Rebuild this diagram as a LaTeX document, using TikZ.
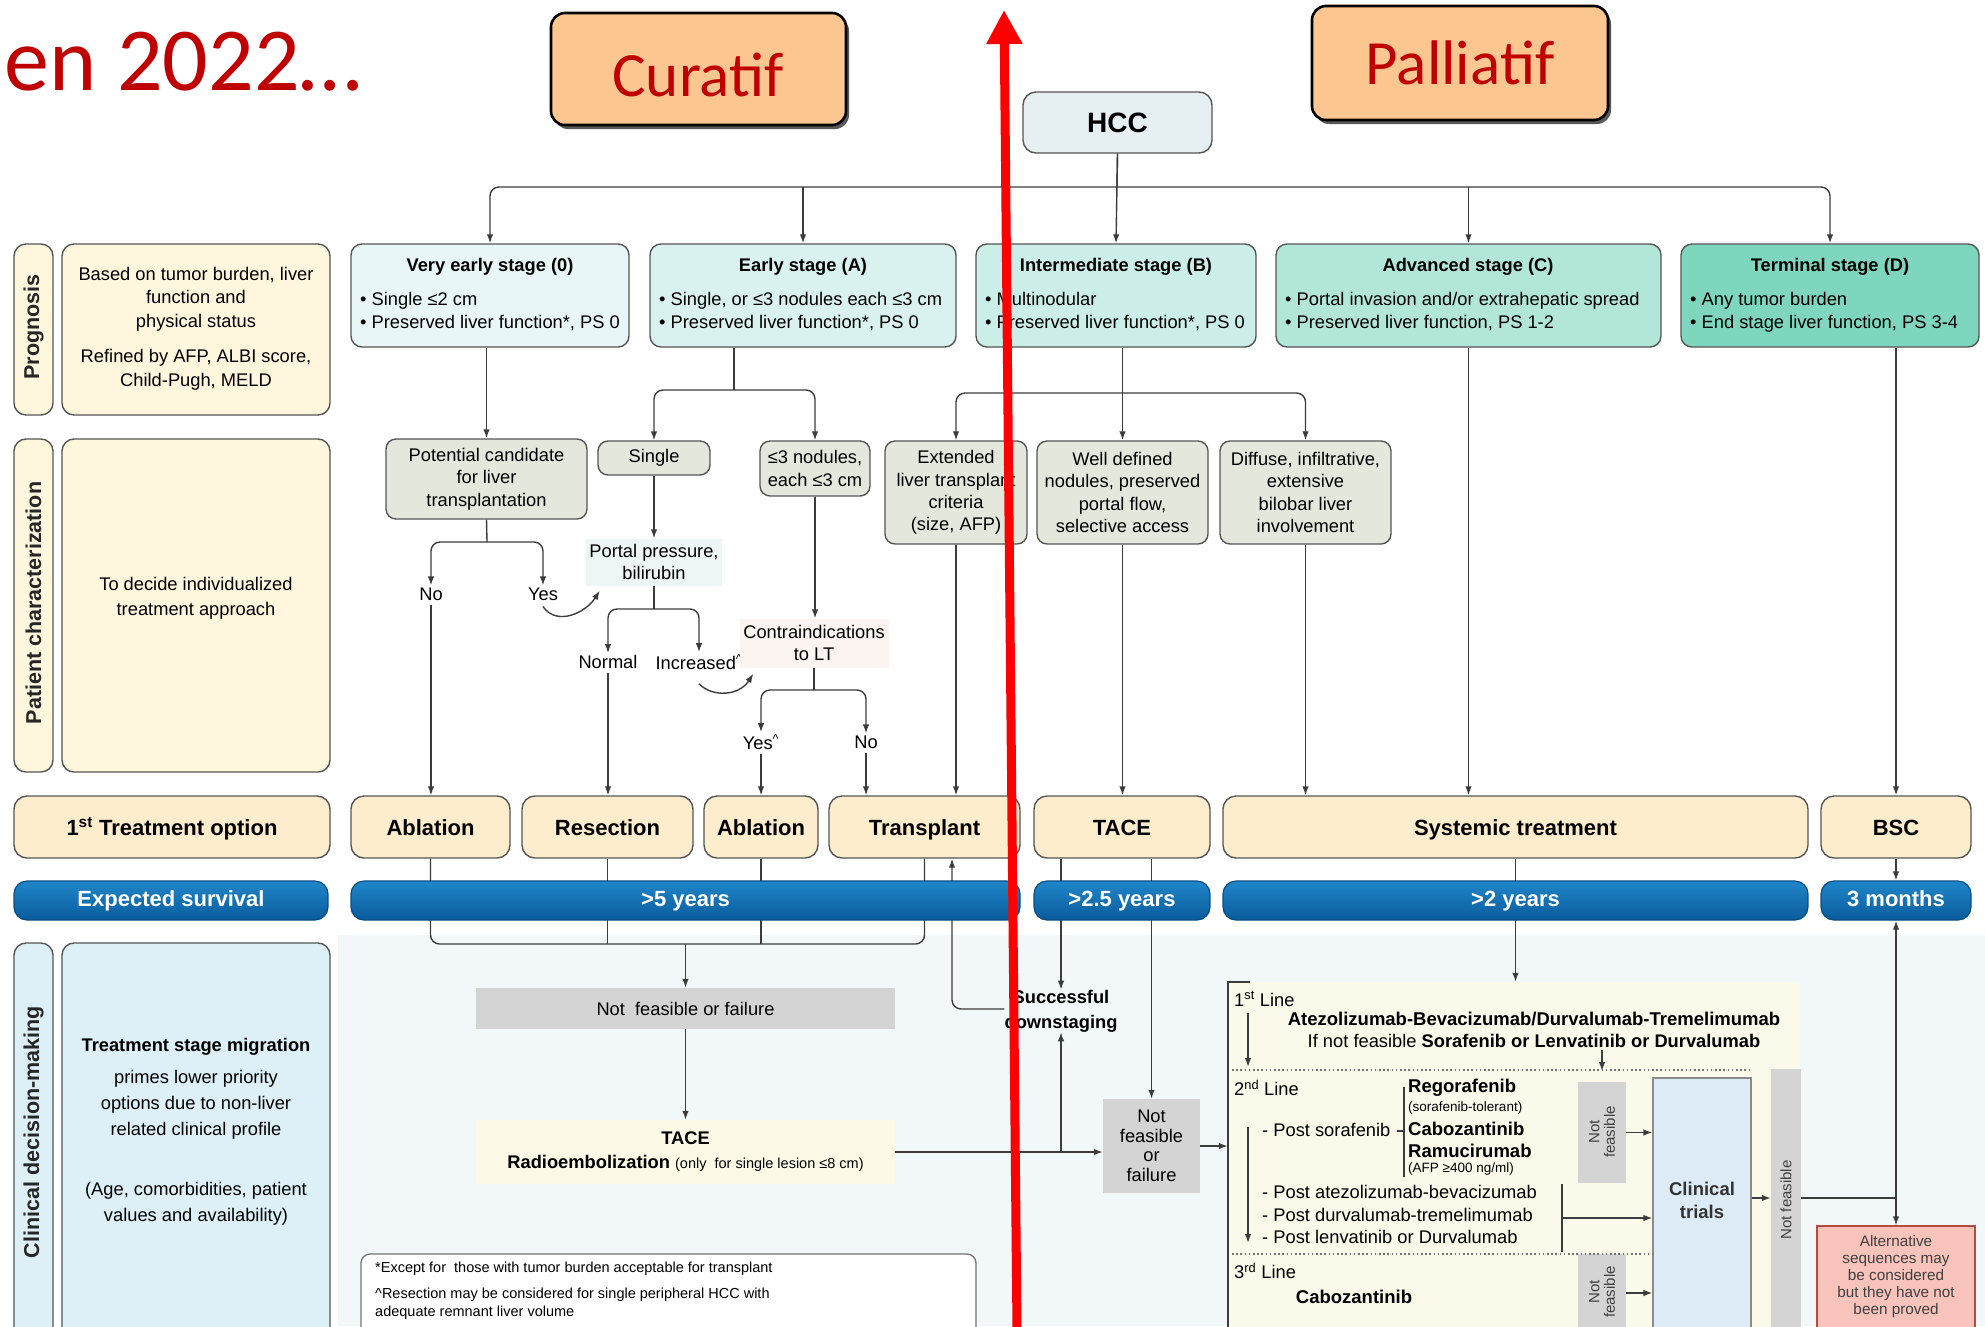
\documentclass[tikz,border=0pt]{standalone}
\usepackage{fontspec}
\setmainfont{Liberation Sans}
\newfontfamily\carlito{Carlito}
\usetikzlibrary{arrows.meta}
\newcommand\myfs[2]{\fontsize{#1pt}{#2pt}\selectfont}
\newcommand\mybox[7]{\node[#2, minimum width={#5pt-#3pt}, minimum height={#6pt-#4pt}] (#1) at ({(#3+#5)/2},{(#4+#6)/2}) {#7};}
\definecolor{linec}{HTML}{3C3C3C}
\definecolor{bordc}{HTML}{555555}
\definecolor{stz}{HTML}{E8F6F8}
\definecolor{sta}{HTML}{DAF2EF}
\definecolor{stb}{HTML}{CBEEE8}
\definecolor{stc}{HTML}{B2E6D9}
\definecolor{std}{HTML}{7FD6BE}
\definecolor{crm}{HTML}{FFF6DE}
\definecolor{trc}{HTML}{FDEDCD}
\definecolor{lvl}{HTML}{E4E8DC}
\definecolor{survt}{HTML}{1F86C9}
\definecolor{survbot}{HTML}{0A5C9C}
\definecolor{survb}{HTML}{0A4E84}
\definecolor{clin}{HTML}{DDF0F7}
\definecolor{grayc}{HTML}{D4D4D4}
\definecolor{bgb}{HTML}{F2F7FA}
\definecolor{sysc}{HTML}{FBF9EA}
\definecolor{ctb}{HTML}{DCEBF6}
\definecolor{altp}{HTML}{F7C3BB}
\definecolor{altb}{HTML}{B84A40}
\definecolor{orng}{HTML}{FCC690}
\definecolor{dred}{HTML}{C00000}
\definecolor{hccf}{HTML}{E6EFF1}
\definecolor{portf}{HTML}{EEF6F5}
\definecolor{contf}{HTML}{FBF4F1}
\definecolor{tacef}{HTML}{FCF9E6}
\begin{document}
\begin{tikzpicture}[x=1pt,y=-1pt,
  ln/.style={draw=linec, line width=1.4pt},
  arr/.style={ln, -{Latex[length=9pt,width=6.5pt]}},
  dbl/.style={ln, {Latex[length=9pt,width=6.5pt]}-{Latex[length=9pt,width=6.5pt]}},
  rc/.style={rounded corners=9pt},
  box/.style={draw=bordc, line width=1.4pt, rounded corners=10pt, inner sep=0pt, align=center, font=\myfs{18.3}{22.4}},
  stg/.style={box, rounded corners=11pt},
  ttl/.style={font=\bfseries\myfs{18.3}{22}, inner sep=0pt},
  bul/.style={anchor=west, align=left, font=\myfs{18.3}{23}, inner sep=0pt},
  txt/.style={align=center, font=\myfs{18.3}{22.4}, inner sep=0pt},
  lab/.style={box, rounded corners=12pt},
  vlab/.style={rotate=90, font=\bfseries\myfs{21.5}{24}, inner sep=0pt, text=black!85},
  trt/.style={box, fill=trc, rounded corners=13pt, font=\bfseries\myfs{22}{26}, text height=19pt, text depth=3pt},
  surv/.style={draw=survb, line width=1.2pt, top color=survt, bottom color=survbot, rounded corners=13pt, text=white, font=\bfseries\myfs{22}{26}, inner sep=0pt, text height=16pt, text depth=4.5pt},
  gbox/.style={fill=grayc, inner sep=0pt, align=center, font=\myfs{18.3}{22}},
  lvb/.style={box, fill=lvl},
  small/.style={font=\myfs{14.5}{18}, inner sep=0pt},
  dot/.style={draw=black!55, line width=1.6pt, dash pattern=on 1.6pt off 2.6pt},
]
\useasboundingbox (0,0) rectangle (1985,1326);
\fill[white] (0,0) rectangle (1985,1326);
\fill[bgb] (338,935) rectangle (1985,1326);

% ---------- top ----------
\node[anchor=east, text=dred, font=\carlito\myfs{90}{96}, inner sep=0pt] (title) at (362,62) {en 2022…};
\fill[black!65, rounded corners=14pt] (554,17) rectangle (849,129);
\mybox{cur}{draw=black, line width=2.6pt, fill=orng, rounded corners=14pt}{551}{13}{846}{125}{}
\node[text=dred, font=\carlito\myfs{63}{70}, inner sep=0pt] (curt) at (698,75) {Curatif};
\fill[black!65, rounded corners=14pt] (1315,10) rectangle (1611,124);
\mybox{pal}{draw=black, line width=2.6pt, fill=orng, rounded corners=14pt}{1312}{6}{1608}{120}{}
\node[text=dred, font=\carlito\myfs{63}{70}, inner sep=0pt] (palt) at (1460,63) {Palliatif};

\mybox{hcc}{box, fill=hccf, rounded corners=13pt, font=\bfseries\myfs{28}{30}}{1023}{92}{1212}{153}{HCC}

% ---------- stages ----------
\mybox{s0}{stg, fill=stz}{351}{244}{629}{347}{}
\node[ttl] (s0t) at (490,267) {Very early stage (0)};
\node[bul] (s0b) at (360,312) {• Single ≤2 cm\\• Preserved liver function*, PS 0};
\mybox{sA}{stg, fill=sta}{650}{244}{956}{347}{}
\node[ttl] (sAt) at (803,267) {Early stage (A)};
\node[bul] (sAb) at (659,312) {• Single, or ≤3 nodules each ≤3 cm\\• Preserved liver function*, PS 0};
\mybox{sB}{stg, fill=stb}{976}{244}{1256}{347}{}
\node[ttl] (sBt) at (1116,267) {Intermediate stage (B)};
\node[bul] (sBb) at (985,312) {• Multinodular\\• Preserved liver function*, PS 0};
\mybox{sC}{stg, fill=stc}{1276}{244}{1661}{347}{}
\node[ttl] (sCt) at (1468,267) {Advanced stage (C)};
\node[bul] (sCb) at (1285,312) {• Portal invasion and/or extrahepatic spread\\• Preserved liver function, PS 1-2};
\mybox{sD}{stg, fill=std}{1681}{244}{1979}{347}{}
\node[ttl] (sDt) at (1830,267) {Terminal stage (D)};
\node[bul] (sDb) at (1690,312) {• Any tumor burden\\• End stage liver function, PS 3-4};

% ---------- left column ----------
\mybox{lp}{lab, fill=crm}{14}{244}{53}{415}{}
\node[vlab] (lpt) at (33.5,327) {Prognosis};
\mybox{dp}{lab, fill=crm}{62}{244}{330}{415}{}
\node[txt, font=\myfs{18.3}{23.5}] (dpt1) at (196,299) {Based on tumor burden, liver\\function and\\physical status};
\node[txt, font=\myfs{18.3}{23.5}] (dpt2) at (196,370) {Refined by AFP, ALBI score,\\Child-Pugh, MELD};
\mybox{lc}{lab, fill=crm}{14}{439}{53}{772}{}
\node[vlab] (lct) at (33.5,603) {Patient characterization};
\mybox{dc}{lab, fill=crm}{62}{439}{330}{772}{}
\node[txt, font=\myfs{18.3}{25}] (dct) at (196,598) {To decide individualized\\treatment approach};
\mybox{to}{trt}{14}{796}{330}{858}{1\textsuperscript{st} Treatment option}
\mybox{lcd}{lab, fill=clin}{14}{943}{53}{1345}{}
\node[vlab] (lcdt) at (33.5,1132) {Clinical decision-making};
\mybox{dcd}{lab, fill=clin}{62}{943}{330}{1345}{}
\node[txt, font=\bfseries\myfs{18.3}{22}] (dcd1) at (196,1047) {Treatment stage migration};
\node[txt, font=\myfs{18.3}{26}] (dcd2) at (196,1105) {primes lower priority\\options due to non-liver\\related clinical profile};
\node[txt, font=\myfs{18.3}{26}] (dcd3) at (196,1204) {(Age, comorbidities, patient\\values and availability)};

% ---------- patient characterization ----------
\mybox{cand}{lvb}{386}{439}{587}{519}{Potential candidate\\for liver\\transplantation}
\mybox{single}{lvb}{598}{441}{710}{475}{Single}
\mybox{nod3}{lvb}{760}{441}{870}{496}{≤3 nodules,\\each ≤3 cm}
\mybox{ext}{lvb}{885}{441}{1027}{544}{Extended\\liver transplant\\criteria\\(size, AFP)}
\mybox{wdef}{lvb}{1037}{441}{1208}{544}{Well defined\\nodules, preserved\\portal flow,\\selective access}
\mybox{diff}{lvb}{1220}{441}{1391}{544}{Diffuse, infiltrative,\\extensive\\bilobar liver\\involvement}

\node[txt] (no1) at (431,594) {No};
\node[txt] (yes1) at (543,594) {Yes};
\node[txt, fill=portf, minimum width=136pt, minimum height=47pt] (portal) at (654,562) {Portal pressure,\\bilirubin};
\node[txt] (normal) at (608,662) {Normal};
\node[txt] (incr) at (699,662) {Increased\textsuperscript{\textasciicircum}};
\node[txt, fill=contf, minimum width=149pt, minimum height=49pt] (contra) at (814,643) {Contraindications\\to LT};
\node[txt] (yes2) at (761,742) {Yes\textsuperscript{\textasciicircum}};
\node[txt] (no2) at (866,742) {No};

% ---------- treatment row ----------
\mybox{abl1}{trt}{351}{796}{510}{858}{Ablation}
\mybox{res}{trt}{522}{796}{693}{858}{Resection}
\mybox{abl2}{trt}{704}{796}{818}{858}{Ablation}
\mybox{tran}{trt}{829}{796}{1020}{858}{Transplant}
\mybox{tace}{trt}{1034}{796}{1210}{858}{TACE}
\mybox{sys}{trt}{1223}{796}{1808}{858}{Systemic treatment}
\mybox{bsc}{trt}{1821}{796}{1971}{858}{BSC}

% ---------- decision area ----------
\mybox{nff}{gbox}{476}{988}{895}{1029}{Not\ \ feasible or failure}
\mybox{tace2}{fill=tacef, inner sep=0pt, align=center, font=\myfs{18.3}{24}}{476}{1120}{895}{1184}{\textbf{TACE}\\\textbf{Radioembolization} {\myfs{14.5}{17}(only\ \ for single lesion ≤8 cm)}}
\node[txt, font=\bfseries\myfs{18.3}{25}] (down) at (1061,1011) {Successful\\downstaging};
\mybox{nf2}{gbox, font=\myfs{18.3}{19.5}}{1103}{1099}{1200}{1193}{Not\\feasible\\or\\failure}

\mybox{sysbox}{fill=sysc, inner sep=0pt}{1228}{982}{1800}{1345}{}
\mybox{ct}{draw=black!45, line width=1.2pt, fill=ctb, inner sep=0pt}{1653}{1078}{1751}{1345}{}
\node[txt, font=\bfseries\myfs{18.5}{23}, text=black!80] (ctt) at (1702,1200) {Clinical\\trials};
\mybox{nfa}{gbox}{1578}{1082}{1626}{1183}{}
\node[rotate=90, align=center, font=\myfs{15}{15.5}, inner sep=0pt, text=black!75] (nfat) at (1602,1132) {Not\\feasible};
\mybox{nfb}{gbox}{1578}{1254}{1626}{1345}{}
\node[rotate=90, align=center, font=\myfs{15}{15.5}, inner sep=0pt, text=black!75] (nfbt) at (1602,1292) {Not\\feasible};
\mybox{nfT}{gbox}{1771}{1069}{1801}{1345}{}
\node[rotate=90, font=\myfs{15}{16}, inner sep=0pt, text=black!75] (nfTt) at (1786,1200) {Not feasible};
\mybox{alt}{draw=altb, line width=1.4pt, fill=altp, inner sep=0pt}{1817}{1226}{1975}{1345}{}
\node[txt, font=\myfs{15.3}{17}, text=black!75] (altt) at (1896,1277) {Alternative\\sequences may\\be considered\\but they have not\\been proved};

\mybox{fn}{draw=black!55, line width=1.3pt, fill=white, rounded corners=9pt}{361}{1254}{976}{1345}{}
\node[small, anchor=west] (fn1) at (375,1269) {*Except for\ \ those with tumor burden acceptable for transplant};
\node[small, anchor=west, align=left] (fn2) at (375,1303.5) {\textasciicircum Resection may be considered for single peripheral HCC with\\adequate remnant liver volume};

% systemic content
\node[txt, anchor=west] (l1) at (1234,999) {1\textsuperscript{st} Line};
\node[txt, font=\bfseries\myfs{18.5}{22}] (atz) at (1534,1019) {Atezolizumab-Bevacizumab/Durvalumab-Tremelimumab};
\node[txt] (ifnf) at (1534,1041) {If not feasible \textbf{Sorafenib or Lenvatinib or Durvalumab}};
\node[txt, anchor=west] (l2) at (1234,1088) {2\textsuperscript{nd} Line};
\node[txt, anchor=west] (psor) at (1262,1130) {- Post sorafenib};
\node[txt, anchor=west, font=\bfseries\myfs{18.5}{22}] (rego) at (1408,1088) {Regorafenib};
\node[small, anchor=west, font=\myfs{13.5}{16}] (stol) at (1408,1108) {(sorafenib-tolerant)};
\node[txt, anchor=west, font=\bfseries\myfs{18.5}{22}] (cabo1) at (1408,1129) {Cabozantinib};
\node[txt, anchor=west, font=\bfseries\myfs{18.5}{22}] (ramu) at (1408,1151) {Ramucirumab};
\node[small, anchor=west, font=\myfs{13.5}{16}] (afp) at (1408,1169) {(AFP ≥400 ng/ml)};
\node[txt, anchor=west] (pat) at (1262,1192) {- Post atezolizumab-bevacizumab};
\node[txt, anchor=west] (pdt) at (1262,1215) {- Post durvalumab-tremelimumab};
\node[txt, anchor=west] (pld) at (1262,1237) {- Post lenvatinib or Durvalumab};
\node[txt, anchor=west] (l3) at (1234,1271) {3\textsuperscript{rd} Line};
\node[txt, font=\bfseries\myfs{18.5}{22}] (cabo2) at (1354,1297) {Cabozantinib};

% ---------- connectors ----------
\coordinate (hj) at (1117,187);
\draw[ln] (hcc.south) -- (hj);
\draw[arr, rc] (hj) -| (s0.north);
\draw[arr, rc] (hj) -| (sD.north);
\draw[arr] (sA.north |- hj) -- (sA.north);
\draw[arr] (hcc.south) -- (sB.north);
\draw[arr] (sC.north |- hj) -- (sC.north);

\draw[arr] (cand.north |- s0.south) -- (cand.north);
\coordinate (aj) at (734,390);
\draw[ln] (aj |- sA.south) -- (aj);
\draw[arr, rc] (aj) -| (single.north);
\draw[arr, rc] (aj) -| (nod3.north);
\coordinate (bj) at (1123,393);
\draw[arr] (wdef.north |- sB.south) -- (wdef.north);
\draw[arr, rc] (bj) -| (ext.north);
\draw[arr, rc] (bj) -| (diff.north);
\draw[arr] (sC.south) -- (sC.south |- sys.north);
\draw[arr] (bsc.north |- sD.south) -- (bsc.north);
\draw[arr] (diff.south) -- (diff.south |- sys.north);
\draw[arr] (wdef.south) -- (wdef.south |- tace.north);
\draw[arr] (ext.south) -- (ext.south |- tran.north);

\coordinate (cj) at (487,542);
\draw[ln] (cand.south) -- (cj);
\draw[arr, rc] (cj) -| ([yshift=2pt]no1.north);
\draw[arr, rc] (cj) -| ([yshift=2pt]yes1.north);
\draw[arr] ([yshift=-4pt]no1.south) -- (no1.south |- abl1.north);
\draw[arr] ([yshift=-6pt]yes1.south) .. controls +(14,20) and +(-14,22) .. ([xshift=14pt,yshift=-5pt]portal.south west);
\draw[arr] (single.south) -- (single.south |- portal.north);
\coordinate (pj) at (654,609);
\draw[ln] (portal.south) -- (pj);
\draw[arr, rc] (pj) -| ([yshift=2pt]normal.north);
\draw[arr, rc] (pj) -| ([yshift=2pt]incr.north);
\draw[arr] ([yshift=-4pt]normal.south) -- (normal.south |- res.north);
\draw[arr] ([yshift=-14pt]incr.south) .. controls +(14,14) and +(-14,22) .. ([xshift=14pt,yshift=-6pt]contra.south west);
\draw[arr] (nod3.south) -- (nod3.south |- contra.north);
\coordinate (ctj) at (814,690);
\draw[ln] (contra.south) -- (ctj);
\draw[arr, rc] (ctj) -| ([yshift=2pt]yes2.north);
\draw[arr, rc] (ctj) -| ([yshift=2pt]no2.north);
\draw[arr] ([yshift=-4pt]yes2.south) -- (yes2.south |- abl2.north);
\draw[arr] ([yshift=-4pt]no2.south) -- (no2.south |- tran.north);

% below treatments (drawn before survival bars)
\draw[ln, rc] (abl1.south) -- (abl1.south |- 0,944) -- (tran.south |- 0,944) -- (tran.south);
\draw[ln] (res.south) -- (res.south |- 0,944);
\draw[ln] (abl2.south) -- (abl2.south |- 0,944);
\draw[arr] (nff.north |- 0,944) -- (nff.north);
\draw[arr] (nff.south) -- (tace2.north);
\draw[arr] (tace2.east) -- (tace2.east -| nf2.west);
\draw[arr] (down.north |- tace.south) -- (down.north);
\draw[arr] (down.south |- tace2.east) -- (down.south);
\draw[arr, rc] ([yshift=2pt]down.west) -| (tran.south -| 952,0);
\draw[arr] (nf2.north |- tace.south) -- (nf2.north);
\draw[arr] (nf2.east) -- (nf2.east -| sysbox.west);
\draw[arr] (sys.south) -- (sys.south |- sysbox.north);

% survival bars
\mybox{es}{surv}{14}{881}{328}{920}{Expected survival}
\mybox{s5}{surv}{351}{881}{1020}{920}{>5 years}
\mybox{s25}{surv}{1034}{881}{1210}{920}{>2.5 years}
\mybox{s2}{surv}{1223}{881}{1808}{920}{>2 years}
\mybox{m3}{surv}{1821}{881}{1971}{920}{3 months}
\draw[arr] (bsc.south) -- (bsc.south |- m3.north);
\draw[dbl] (m3.south) -- (m3.south |- alt.north);

% systemic box internals
\draw[ln] ([xshift=22pt]sysbox.north west) -- (sysbox.north west) -- (sysbox.south west);
\draw[arr] (1248,1013) -- (1248,1067);
\draw[arr] (1248,1127) -- (1248,1243);
\draw[dot] (1232,1070) -- (1751,1070);
\draw[dot] (1232,1254) -- (1653,1254);
\draw[ln, line width=1.1pt] (1404,1087) -- (1404,1177);
\draw[ln, line width=1.1pt] (1397,1131) -- (1404,1131);
\draw[ln] (1562,1184) -- (1562,1252);
\draw[arr] (1562,1218) -- (ct.west |- 0,1218);
\draw[arr] (nfa.north |- 0,1050) -- (nfa.north |- 0,1071);
\draw[arr] (nfa.east) -- (nfa.east -| ct.west);
\draw[arr] (nfb.east |- 0,1293) -- (ct.west |- 0,1293);
\draw[arr] (ct.east |- 0,1198) -- (nfT.west |- 0,1198);
\draw[ln] (nfT.east |- 0,1198) -- (m3.south |- 0,1198);

% red arrow
\coordinate (redb) at (1017,1330);
\coordinate (redt) at (1004,10);
\draw[line width=9pt, red, -{Triangle[width=34pt,length=34pt]}] (redb) -- (redt);
\end{tikzpicture}
\end{document}
